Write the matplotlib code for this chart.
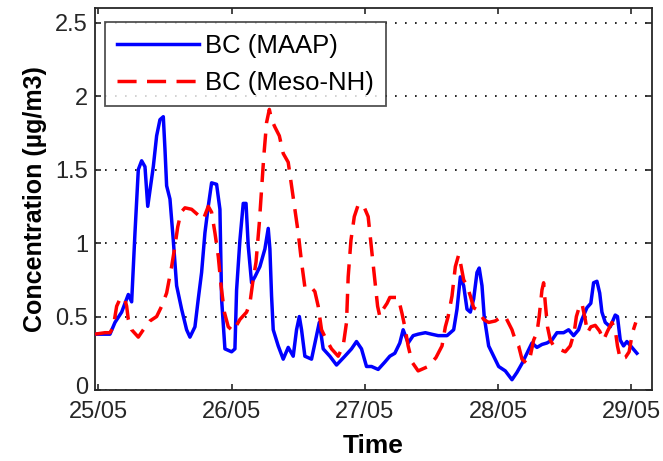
import matplotlib
matplotlib.use("Agg")
import matplotlib.pyplot as plt
import matplotlib.transforms as mtransforms
import numpy as np

plt.rcParams['font.family'] = ['Liberation Sans', 'DejaVu Sans']

# Hours since 25/05 00:00 and black-carbon concentration (µg/m3)
maap_hours = [-0.6, 1.2, 2.1, 3.0, 4.2, 5.4, 6.0, 6.6, 7.2, 7.8, 8.4, 8.9, 9.3, 9.9,
              10.5, 11.1, 11.7, 12.0, 12.3, 12.9, 13.5, 14.1, 15.0, 15.9, 16.5, 17.4,
              18.0, 18.6, 19.2, 19.8, 20.4, 21.3, 21.9, 22.2, 22.8, 24.0, 24.6, 24.9,
              25.5, 26.1, 26.6, 27.0, 27.6, 28.2, 29.1, 30.0, 30.6, 30.9, 31.2, 31.5,
              32.4, 33.3, 34.2, 35.1, 35.7, 36.2, 36.6, 37.2, 38.4, 39.3, 39.8, 40.5,
              41.7, 42.9, 44.4, 45.6, 46.5, 47.4, 48.3, 49.2, 50.4, 51.6, 52.5, 53.4,
              54.3, 54.9, 55.8, 56.7, 57.6, 58.9, 60.0, 61.2, 62.8, 64.0, 64.6, 65.2,
              65.8, 66.4, 67.0, 67.6, 68.2, 68.6, 69.1, 69.5, 70.3, 71.2, 72.1, 73.3,
              74.5, 75.4, 76.3, 77.2, 78.1, 79.0, 79.9, 80.8, 81.7, 82.6, 83.8, 84.7,
              85.6, 86.5, 87.1, 88.0, 88.7, 89.2, 89.8, 90.3, 90.7, 91.3, 92.2, 93.1,
              93.5, 94.0, 94.6, 95.2, 96.1, 97.0]
maap_values = [0.38, 0.38, 0.38, 0.46, 0.53, 0.65, 0.60, 1.07, 1.50, 1.56, 1.52, 1.25, 1.36, 1.52,
               1.73, 1.84, 1.86, 1.64, 1.39, 1.30, 1.02, 0.71, 0.55, 0.41, 0.36, 0.43,
               0.62, 0.80, 1.07, 1.25, 1.41, 1.40, 1.23, 0.62, 0.28, 0.26, 0.28, 0.68,
               1.02, 1.27, 1.27, 0.98, 0.73, 0.77, 0.84, 0.96, 1.10, 0.96, 0.64, 0.41,
               0.30, 0.21, 0.29, 0.23, 0.41, 0.50, 0.41, 0.23, 0.21, 0.37, 0.46, 0.28,
               0.23, 0.17, 0.23, 0.28, 0.33, 0.28, 0.16, 0.16, 0.14, 0.19, 0.23, 0.25,
               0.32, 0.41, 0.32, 0.37, 0.38, 0.39, 0.38, 0.37, 0.37, 0.41, 0.55, 0.77,
               0.71, 0.55, 0.53, 0.62, 0.80, 0.83, 0.71, 0.50, 0.30, 0.23, 0.16, 0.13,
               0.07, 0.12, 0.18, 0.25, 0.32, 0.29, 0.31, 0.32, 0.34, 0.39, 0.39, 0.41,
               0.37, 0.41, 0.48, 0.56, 0.59, 0.73, 0.74, 0.66, 0.53, 0.46, 0.43, 0.51,
               0.50, 0.34, 0.30, 0.33, 0.29, 0.25]

mesonh_hours = [-0.6, 1.2, 2.1, 2.7, 3.3, 3.9, 4.7, 5.1, 5.4, 6.0, 7.2, 8.1, 9.3, 10.5,
                11.4, 12.3, 13.2, 13.8, 14.3, 14.9, 15.6, 16.8, 18.0, 18.9, 19.8, 20.4,
                21.0, 21.6, 22.1, 22.7, 23.4, 24.3, 25.5, 26.7, 27.3, 27.8, 28.4, 29.0,
                29.4, 29.8, 30.3, 30.8, 31.2, 31.8, 32.6, 33.3, 34.2, 34.8, 35.4, 36.0,
                36.6, 37.2, 38.1, 39.0, 39.6, 40.2, 41.1, 42.0, 43.2, 44.1, 44.7, 45.0,
                45.5, 46.1, 46.8, 47.7, 48.6, 48.9, 49.4, 49.8, 50.3, 50.7, 51.3, 52.0,
                52.5, 54.0, 54.7, 55.2, 55.8, 56.5, 57.6, 59.4, 60.8, 61.9, 62.5, 63.0,
                63.7, 64.3, 64.9, 65.2, 65.8, 66.4, 67.0, 67.6, 68.5, 69.4, 70.3, 71.5,
                72.7, 73.3, 74.5, 75.1, 75.7, 76.3, 77.2, 77.8, 78.4, 79.0, 79.4, 79.9,
                80.2, 80.5, 80.9, 81.4, 82.0, 82.9, 84.1, 85.0, 85.7, 86.1, 86.5, 87.1,
                87.7, 88.1, 88.7, 89.5, 90.3, 91.0, 91.7, 92.5, 93.1, 93.5, 94.0, 94.9,
                95.6, 96.2, 96.8]
mesonh_values = [0.38, 0.39, 0.39, 0.43, 0.57, 0.62, 0.63, 0.57, 0.48, 0.41, 0.36, 0.41, 0.47, 0.50,
                 0.57, 0.66, 0.84, 0.98, 1.11, 1.21, 1.24, 1.23, 1.19, 1.16, 1.25, 1.21,
                 1.07, 0.91, 0.71, 0.53, 0.43, 0.40, 0.48, 0.53, 0.59, 0.73, 0.87, 1.14,
                 1.36, 1.59, 1.82, 1.91, 1.84, 1.79, 1.73, 1.61, 1.55, 1.39, 1.23, 1.07,
                 0.87, 0.70, 0.71, 0.67, 0.57, 0.41, 0.34, 0.28, 0.23, 0.30, 0.46, 0.77,
                 1.02, 1.18, 1.26, 1.26, 1.18, 1.07, 0.89, 0.75, 0.57, 0.50, 0.55, 0.59,
                 0.63, 0.63, 0.52, 0.43, 0.30, 0.19, 0.13, 0.16, 0.22, 0.30, 0.43, 0.50,
                 0.64, 0.84, 0.92, 0.87, 0.75, 0.71, 0.64, 0.56, 0.54, 0.48, 0.46, 0.47,
                 0.50, 0.50, 0.41, 0.34, 0.30, 0.21, 0.18, 0.23, 0.34, 0.39, 0.50, 0.68,
                 0.73, 0.59, 0.43, 0.34, 0.30, 0.28, 0.26, 0.30, 0.39, 0.50, 0.55, 0.59,
                 0.48, 0.39, 0.43, 0.44, 0.40, 0.34, 0.40, 0.46, 0.41, 0.30, 0.21, 0.22,
                 0.26, 0.39, 0.46]

day_ticks = [0, 1, 2, 3, 4]
day_labels = ['25/05', '26/05', '27/05', '28/05', '29/05']
y_ticks = [0, 0.5, 1, 1.5, 2, 2.5]
y_labels = ['0', '0.5', '1', '1.5', '2', '2.5']

fig = plt.figure(figsize=(6.63, 4.61), dpi=100)
ax = fig.add_axes([95 / 663, 1 - 390 / 461, 557 / 663, 382 / 461])

maap_days = np.array(maap_hours) / 24.0
mesonh_days = np.array(mesonh_hours) / 24.0

ax.plot(maap_days, maap_values, color='#0000ff', linewidth=2.5,
        label='BC (MAAP)', zorder=3)
ln, = ax.plot(mesonh_days, mesonh_values, color='#ff0000', linewidth=2.5,
              label='BC (Meso-NH)', zorder=3)
ln.set_dashes((5.5, 3.0))

ax.set_xlim(-0.025, 4.155)
ax.set_ylim(0, 2.6)
ax.set_xticks(day_ticks)
ax.set_xticklabels(day_labels)
ax.set_yticks(y_ticks)
ax.set_yticklabels(y_labels)

ax.yaxis.grid(True, color='black', linewidth=1.2, linestyle=(0, (1, 5)), zorder=1)
ax.xaxis.grid(False)
ax.set_axisbelow(True)

ax.tick_params(direction='in', top=True, right=True, length=4, width=1.2,
               labelsize=17, colors='#262626')
ax.tick_params(axis='x', pad=8)
ax.tick_params(axis='y', pad=5)
for s in ax.spines.values():
    s.set_linewidth(1.3)
    s.set_color('#262626')

# lift the zero label slightly so it clears the first date label
zero_lbl = ax.get_yticklabels()[0]
zero_lbl.set_transform(zero_lbl.get_transform() +
                       mtransforms.ScaledTranslation(0, 5 / 100, fig.dpi_scale_trans))

ax.set_xlabel('Time', fontsize=19, fontweight='bold', labelpad=8)
ax.set_ylabel('Concentration (µg/m3)', fontsize=18, fontweight='bold', labelpad=6)

leg = ax.legend(loc='upper left', bbox_to_anchor=(0.018, 0.963), borderaxespad=0,
                fontsize=18.5, frameon=True, fancybox=False, handlelength=3.2,
                handletextpad=0.25, borderpad=0.45, labelspacing=0.5)
leg.get_frame().set_edgecolor('#262626')
leg.get_frame().set_linewidth(1.3)

fig.savefig('out.png', dpi=100)
